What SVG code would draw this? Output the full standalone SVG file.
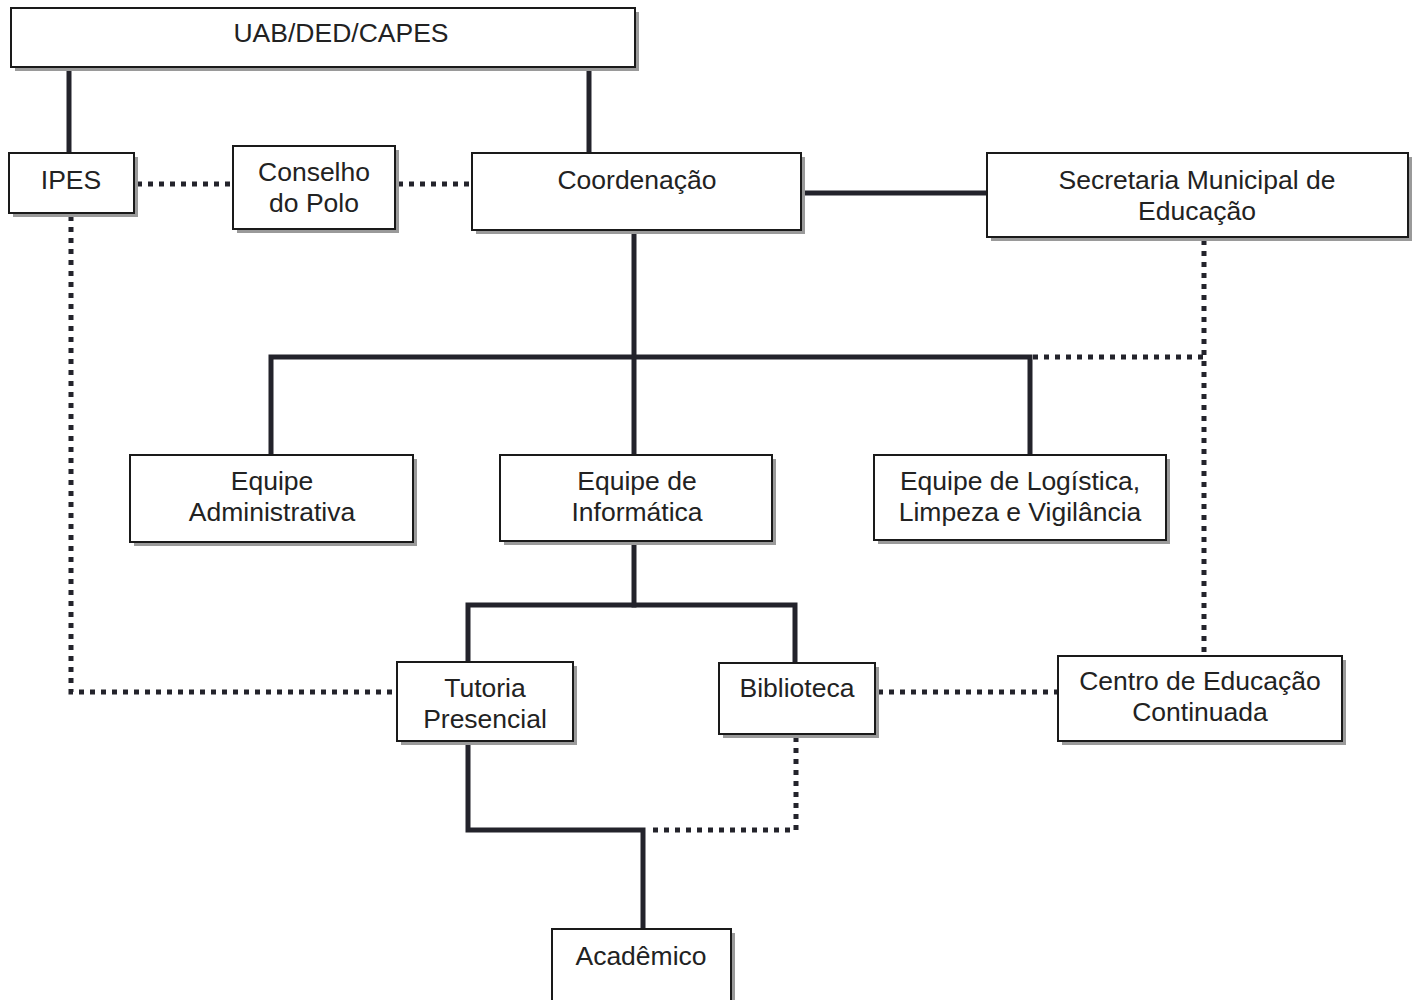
<svg xmlns="http://www.w3.org/2000/svg" width="1416" height="1000" viewBox="0 0 1416 1000">
<style>
.sh{fill:#9a9a9a}
.bx{fill:#fff;stroke:#1a1a1a;stroke-width:2}
.t{font-family:"Liberation Sans",Arial,sans-serif;font-size:26.5px;fill:#222;text-anchor:middle}
.s{fill:none;stroke:#23232b;stroke-width:5;stroke-linejoin:miter;stroke-linecap:square}
.d{fill:none;stroke:#23232b;stroke-width:5;stroke-dasharray:5 6}
</style>
<rect width="1416" height="1000" fill="#fff"/>
<g id="connectors">
<path class="s" d="M69 67V153"/>
<path class="s" d="M589 67V153"/>
<path class="s" d="M801 193H987"/>
<path class="s" d="M634 230V455"/>
<path class="s" d="M271 455V357H1030V455"/>
<path class="s" d="M634 541V605"/>
<path class="s" d="M468 662V605H795V663"/>
<path class="s" d="M468 741V830H643V929"/>
<path class="d" d="M137 184H233"/>
<path class="d" d="M398 184H472"/>
<path class="d" d="M71 216V692H397"/>
<path class="d" d="M1204 240V656"/>
<path class="d" d="M1033 357H1204"/>
<path class="d" d="M878 692H1058"/>
<path class="d" d="M796 737V830H648"/>
</g>
<g id="uab"><rect class="sh" x="15" y="12" width="624" height="59"/><rect class="bx" x="11" y="8" width="624" height="59"/><text class="t" x="341" y="42">UAB/DED/CAPES</text></g>
<g id="ipes"><rect class="sh" x="13" y="157" width="125" height="60"/><rect class="bx" x="9" y="153" width="125" height="60"/><text class="t" x="71" y="189">IPES</text></g>
<g id="conselho"><rect class="sh" x="237" y="150" width="162" height="83"/><rect class="bx" x="233" y="146" width="162" height="83"/><text class="t" x="314" y="181">Conselho</text><text class="t" x="314" y="212">do Polo</text></g>
<g id="coordenacao"><rect class="sh" x="476" y="157" width="329" height="77"/><rect class="bx" x="472" y="153" width="329" height="77"/><text class="t" x="637" y="189">Coordenação</text></g>
<g id="secretaria"><rect class="sh" x="991" y="157" width="421" height="84"/><rect class="bx" x="987" y="153" width="421" height="84"/><text class="t" x="1197" y="189">Secretaria Municipal de</text><text class="t" x="1197" y="220">Educação</text></g>
<g id="administrativa"><rect class="sh" x="134" y="459" width="283" height="87"/><rect class="bx" x="130" y="455" width="283" height="87"/><text class="t" x="272" y="490">Equipe</text><text class="t" x="272" y="521">Administrativa</text></g>
<g id="informatica"><rect class="sh" x="504" y="459" width="272" height="86"/><rect class="bx" x="500" y="455" width="272" height="86"/><text class="t" x="637" y="490">Equipe de</text><text class="t" x="637" y="521">Informática</text></g>
<g id="logistica"><rect class="sh" x="878" y="459" width="292" height="85"/><rect class="bx" x="874" y="455" width="292" height="85"/><text class="t" x="1020" y="490">Equipe de Logística,</text><text class="t" x="1020" y="521">Limpeza e Vigilância</text></g>
<g id="tutoria"><rect class="sh" x="401" y="666" width="176" height="79"/><rect class="bx" x="397" y="662" width="176" height="79"/><text class="t" x="485" y="697">Tutoria</text><text class="t" x="485" y="728">Presencial</text></g>
<g id="biblioteca"><rect class="sh" x="723" y="667" width="156" height="71"/><rect class="bx" x="719" y="663" width="156" height="71"/><text class="t" x="797" y="697">Biblioteca</text></g>
<g id="centro"><rect class="sh" x="1062" y="660" width="284" height="85"/><rect class="bx" x="1058" y="656" width="284" height="85"/><text class="t" x="1200" y="690">Centro de Educação</text><text class="t" x="1200" y="721">Continuada</text></g>
<g id="academico"><rect class="sh" x="556" y="933" width="179" height="80"/><rect class="bx" x="552" y="929" width="179" height="80"/><text class="t" x="641" y="965">Acadêmico</text></g>
</svg>
